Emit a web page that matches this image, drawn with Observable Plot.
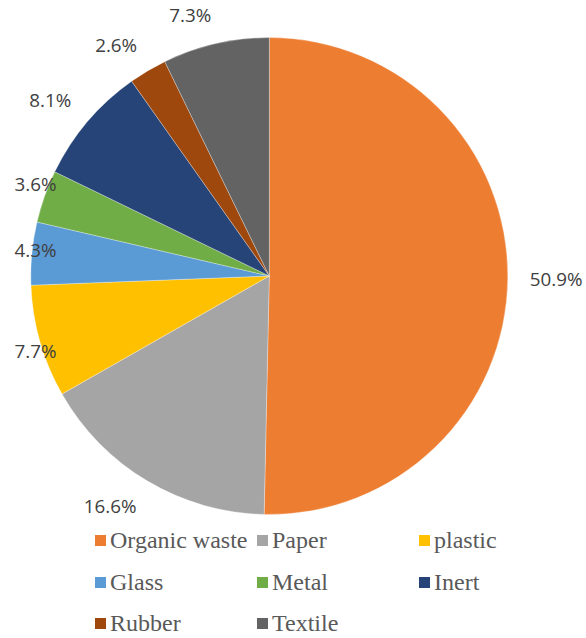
<!DOCTYPE html>
<html><head><meta charset="utf-8">
<script src="https://cdn.jsdelivr.net/npm/d3@7"></script>
<script src="https://cdn.jsdelivr.net/npm/@observablehq/plot@0.6"></script>
<style>
html,body{margin:0;padding:0;background:#fff;overflow:hidden;}
#chart svg{display:block;}
.legend{display:grid;grid-template-columns:repeat(3,162px);margin-left:95px;font-family:"Liberation Serif","Times New Roman",serif;font-size:24px;color:#595959;}
.item{display:flex;align-items:center;height:41.5px;line-height:41.5px;white-space:nowrap;}
.sw{width:11px;height:11px;margin-right:4px;flex:none;}
</style></head><body>
<div id="chart"></div>
<script>
const categories = ["Organic waste","Paper","plastic","Glass","Metal","Inert","Rubber","Textile"];
const shares = [50.9,16.6,7.7,4.3,3.6,8.1,2.6,7.3];
const colors = ["#ED7D31","#A5A5A5","#FFC000","#5B9BD5","#70AD47","#264478","#9E480E","#636363"];
const labels = shares.map(v => v.toFixed(1) + "%");

const W = 586, H = 520, CX = 269.3, CY = 276, R = 238.5;
const data = categories.map((c, i) => ({category: c, value: shares[i], color: colors[i], label: labels[i]}));
const arcs = d3.pie().sort(null).value(d => d.value)(data);

const LABEL_FONT = 18.8, FAMILY = '"Open Sans", sans-serif';
const ctx = document.createElement("canvas").getContext("2d");
ctx.font = `${LABEL_FONT}px ${FAMILY}`;
const GAP = 22, HH = 6.8;
const clamp = (v, a, b) => Math.max(a, Math.min(b, v));
const labelPts = arcs.map(a => {
  const t = (a.startAngle + a.endAngle) / 2;
  const s = Math.sin(t), c = Math.cos(t);
  const hw = ctx.measureText(a.data.label).width / 2;
  let px = CX + (R + GAP) * s + hw * clamp(s / 0.2, -1, 1);
  let py = CY - (R + GAP) * c - HH * clamp(c / 0.5, -1, 1);
  px = clamp(px, 14 + hw, W - 4 - hw);
  return {...a.data, ux: (px - CX) / R, uy: (CY - py) / R};
});

const pieMark = (index, scales) => {
  const x = scales.x, y = scales.y;
  const r = x(1) - x(0);
  const g = d3.create("svg:g").attr("transform", `translate(${x(0)},${y(0)})`);
  const arc = d3.arc().innerRadius(0).outerRadius(r);
  g.selectAll("path").data(arcs).join("path")
    .attr("d", arc).attr("fill", d => d.data.color)
    .attr("stroke", "#fff").attr("stroke-width", 0.5).attr("stroke-opacity", 0.6);
  return g.node();
};

const chart = Plot.plot({
  width: W, height: H, margin: 0,
  style: {background: "#fff"},
  x: {domain: [-CX / R, (W - CX) / R], range: [0, W], axis: null},
  y: {domain: [(CY - H) / R, CY / R], range: [H, 0], axis: null},
  marks: [
    pieMark,
    Plot.text(labelPts, {x: "ux", y: "uy", text: "label", fontSize: LABEL_FONT, fontFamily: FAMILY, fill: "#404040"})
  ]
});
document.getElementById("chart").append(chart);

const legend = document.createElement("div");
legend.className = "legend";
data.forEach(d => {
  const it = document.createElement("div");
  it.className = "item";
  const sw = document.createElement("span");
  sw.className = "sw";
  sw.style.background = d.color;
  const tx = document.createElement("span");
  tx.textContent = d.category;
  it.append(sw, tx);
  legend.append(it);
});
document.body.append(legend);
</script>
</body></html>
